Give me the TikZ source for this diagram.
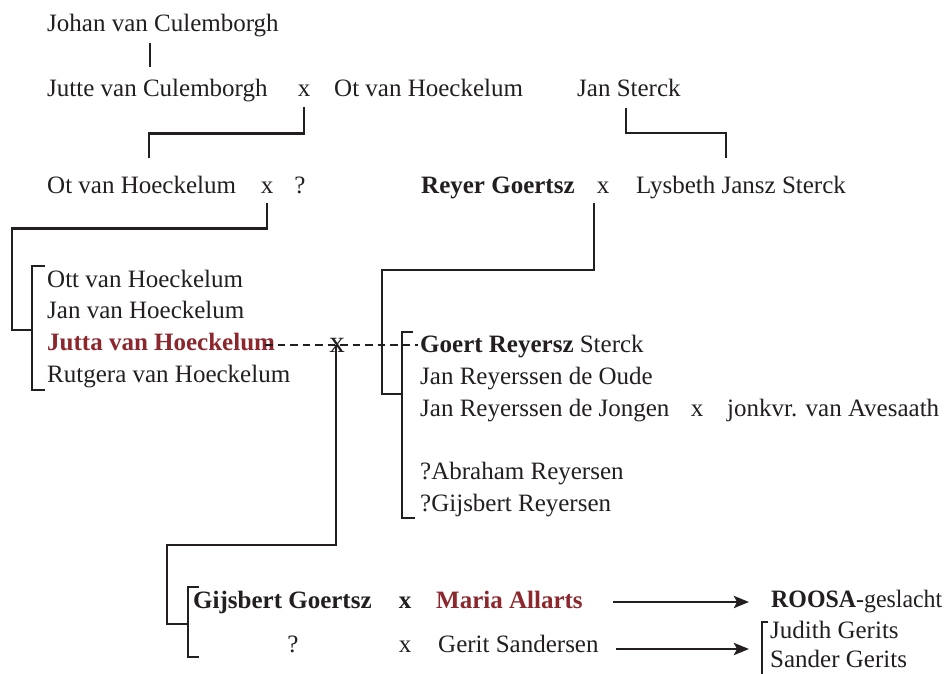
\documentclass[tikz,border=0pt]{standalone}
\usepackage{fontspec}
\setmainfont{Liberation Serif}
\usetikzlibrary{arrows.meta}
\definecolor{ink}{RGB}{35,31,32}
\definecolor{rood}{RGB}{140,40,45}
\begin{document}
\begin{tikzpicture}[x=1pt,y=-1pt,
  txt/.style={inner sep=0pt, anchor=base west, font=\fontsize{25}{30}\selectfont, text=ink},
  mx/.style={inner sep=0pt, anchor=base, font=\fontsize{25}{30}\selectfont, text=ink},
  conn/.style={draw=ink, line width=2.8pt},
  dashedconn/.style={draw=ink, line width=2.7pt, dash pattern=on 7.5pt off 5pt},
  arr/.style={draw=ink, line width=2.7pt, -{Stealth[length=15pt,width=12pt,inset=3pt]}}]
\useasboundingbox (0,0) rectangle (947,674);
\fill[white] (0,0) rectangle (947,674);

% generation 1-2
\node[txt] (johan) at (47,32) {Johan van Culemborgh};
\node[txt] (jutte) at (47,97) {Jutte van Culemborgh};
\node[mx]  (x1) at (304,97) {x};
\node[txt] (ot1) at (334,97) {Ot van Hoeckelum};
\node[txt] (jansterck) at (577,97) {Jan Sterck};

% generation 3
\node[txt] (ot2) at (47,193) {Ot van Hoeckelum};
\node[mx]  (x2) at (267,193) {x};
\node[mx]  (q1) at (300,193) {?};
\node[txt] (reyer) at (421,193) {\bfseries Reyer Goertsz};
\node[mx]  (x3) at (603,193) {x};
\node[txt] (lysbeth) at (636,193) {Lysbeth Jansz Sterck};

% children of Ot
\node[txt] (ott) at (47,287) {Ott van Hoeckelum};
\node[txt] (jan) at (47,318) {Jan van Hoeckelum};
\node[txt, text=rood] (jutta) at (47,350) {\bfseries Jutta van Hoeckelum};
\node[txt] (rutgera) at (47,382) {Rutgera van Hoeckelum};

% children of Reyer
\node[txt] (goert) at (420,352) {\textbf{Goert Reyersz} Sterck};
\node[txt] (janoude) at (420,384) {Jan Reyerssen de Oude};
\node[txt] (janjong) at (420,416) {Jan Reyerssen de Jongen};
\node[mx]  (x4) at (697,416) {x};
\node[txt] (jonkvr) at (727,416) {jonkvr. van Avesaath};
\node[txt] (abraham) at (420,479) {?Abraham Reyersen};
\node[txt] (gijsR) at (420,511) {?Gijsbert Reyersen};

% marriage mark Jutta x Goert
\node[mx, font=\fontsize{31}{36}\selectfont] (x5) at (337,352) {x};

% bottom
\node[txt] (gijsbert) at (193,608) {\bfseries Gijsbert Goertsz};
\node[mx]  (x6) at (405,608) {\bfseries x};
\node[txt, text=rood] (maria) at (436,608) {\bfseries Maria Allarts};
\node[mx]  (q2) at (293,652) {?};
\node[mx]  (x7) at (405,652) {x};
\node[txt] (gerit) at (438,652) {Gerit Sandersen};

\node[txt] (roosa) at (771,607) {\scalebox{0.955}[1]{\textbf{ROOSA}-geslacht}};
\node[txt] (judith) at (770,638) {Judith Gerits};
\node[txt] (sander) at (770,667) {Sander Gerits};

% coordinates
\coordinate (johanB) at (150,43);
\coordinate (jutteT) at (150,67);
\coordinate (otTwoT) at (149,158);
\coordinate (jsB) at (626,108);
\coordinate (lysT) at (726,158);
\coordinate (otKidsJ) at (32,330);
\coordinate (reyerKidsJ) at (402,394);
\coordinate (dashA) at (265,345);
\coordinate (dashB) at (418,345);
\coordinate (markC) at (336,345);
\coordinate (gijsJ) at (188,624);
\coordinate (arrA1) at (613,602);
\coordinate (arrB1) at (749,602);
\coordinate (arrA2) at (616,649);
\coordinate (arrB2) at (749,649);

% connectors
\draw[conn] (johanB) -- (jutteT);
\draw[conn] ([yshift=-10pt]x1.south) -- ++(0,26) -| (otTwoT);
\draw[conn] (jsB) -- ++(0,25) -| (lysT);
\draw[conn] ([yshift=-10pt]x2.south) -- ++(0,25) -| (12,330) -- (otKidsJ);
\draw[conn] (594,203) -- (594,270) -| (382,394) -- (reyerKidsJ);
\draw[dashedconn] (dashA) -- (dashB);
\draw[conn] (markC) -- (336,545) -| (167,624) -- (gijsJ);

% brackets
\draw[conn] (45,266) -| (32,390) -- (45,390);
\draw[conn] (413,332) -| (402,518) -- (415,518);
\draw[conn] (199,587) -| (188,657) -- (199,657);
\draw[conn] (768,622) -| (762,676);

% arrows
\draw[arr] (arrA1) -- (arrB1);
\draw[arr] (arrA2) -- (arrB2);
\end{tikzpicture}
\end{document}
